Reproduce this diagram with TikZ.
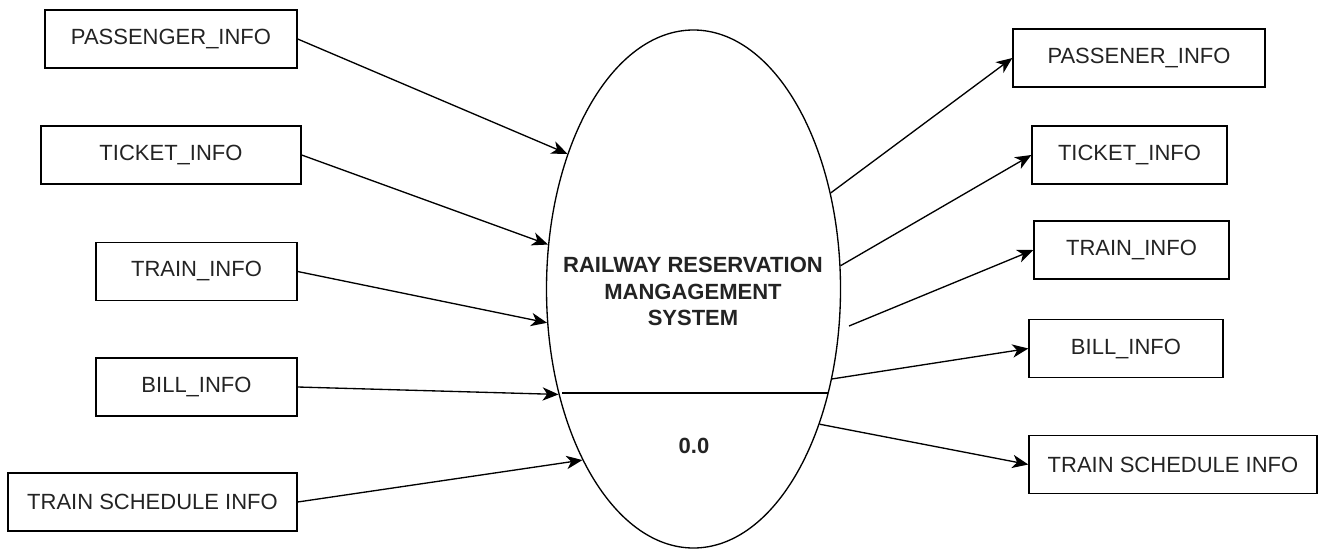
\documentclass[tikz,border=0pt]{standalone}
\usepackage{fontspec}
\newfontfamily\dfdfont{Liberation Sans}
\usetikzlibrary{shapes.geometric,arrows.meta}

\tikzset{
  entity/.style={draw, line width=1pt, minimum height=43.5pt, inner sep=0.75pt,
    font=\dfdfont\fontsize{16.5}{20}\selectfont, text={rgb,255:red,35;green,35;blue,35}},
  flow/.style={line width=1pt, -{Stealth[length=12pt,width=10pt,inset=3.5pt]}}
}

\begin{document}
\begin{tikzpicture}[x=0.75pt,y=0.75pt,yscale=-1,xscale=1]
\useasboundingbox (0,0) rectangle (1320,550);

%Shape: Ellipse [id:sys]
\node [draw, ellipse, line width=1pt, inner sep=0pt, minimum width=220.5pt, minimum height=388.5pt] (sys) at (693.5,289) {};
%Straight Lines [id:divider]
\draw [line width=1pt]    (562,393) -- (828,393) ;

% Text Node
\node [font=\dfdfont\bfseries\fontsize{16.5}{20}\selectfont, align=center, text={rgb,255:red,35;green,35;blue,35}] (title) at (693,291.5) {RAILWAY RESERVATION\\MANGAGEMENT\\SYSTEM};
% Text Node
\node [font=\dfdfont\bfseries\fontsize{16.5}{20}\selectfont, text={rgb,255:red,35;green,35;blue,35}] (num) at (694,446) {0.0};

%Shape: Rectangle [left column]
\node [entity, minimum width=189pt] (passIn) at (171,39) {PASSENGER\_INFO};
\node [entity, minimum width=195pt] (ticketIn) at (171,155) {TICKET\_INFO};
\node [entity, minimum width=150.75pt] (trainIn) at (196.5,271.5) {TRAIN\_INFO};
\node [entity, minimum width=150.75pt] (billIn) at (196.5,387) {BILL\_INFO};
\node [entity, minimum width=216.75pt] (schedIn) at (152.5,502) {TRAIN SCHEDULE INFO};

%Shape: Rectangle [right column]
\node [entity, minimum width=189pt] (passOut) at (1139,58) {PASSENER\_INFO};
\node [entity, minimum width=146.25pt] (ticketOut) at (1129.5,155) {TICKET\_INFO};
\node [entity, minimum width=146.25pt] (trainOut) at (1131.5,250) {TRAIN\_INFO};
\node [entity, minimum width=145.5pt] (billOut) at (1126,348.5) {BILL\_INFO};
\node [entity, minimum width=216pt] (schedOut) at (1173,464.5) {TRAIN SCHEDULE INFO};

%Straight Lines [inputs]
\draw [flow]    (passIn.east) -- (sys.133) ;
\draw [flow]    (ticketIn.east) -- (sys.163) ;
\draw [flow]    (trainIn.east) -- (sys.193) ;
\draw [flow]    (billIn.east) -- (sys.218) ;
\draw [flow]    (schedIn.east) -- (sys.237) ;

%Straight Lines [outputs]
\coordinate (trainStart) at (849,326);
\draw [flow]    (sys.35) -- (passOut.west) ;
\draw [flow]    (sys.9) -- (ticketOut.west) ;
\draw [flow]    (trainStart) -- (trainOut.west) ;
\draw [flow]    (sys.-33) -- (billOut.west) ;
\draw [flow]    (sys.-47) -- (schedOut.west) ;

\end{tikzpicture}
\end{document}
